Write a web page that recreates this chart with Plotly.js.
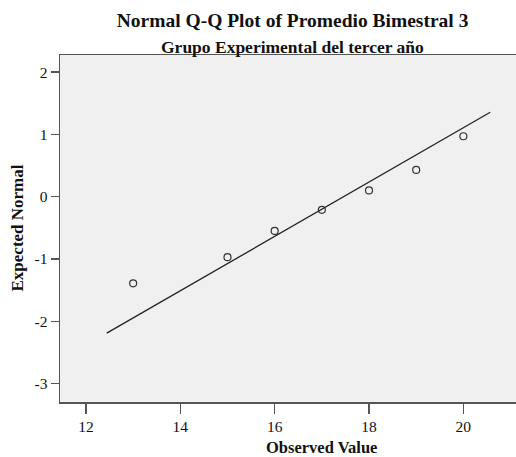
<!DOCTYPE html>
<html>
<head>
<meta charset="utf-8">
<script src="https://cdn.plot.ly/plotly-3.0.1.min.js"></script>
<style>html,body{margin:0;padding:0;background:#fff;}#chart{width:516px;height:457px;}</style>
</head>
<body>
<div id="chart"></div>
<script>
// Observed values and their expected normal scores
const observed = [13, 15, 16, 17, 18, 19, 20];
const expectedNormal = [-1.39, -0.97, -0.55, -0.21, 0.10, 0.43, 0.97];
// Reference line endpoints
const lineX = [12.44, 20.57];
const lineY = [-2.19, 1.355];
const xTicks = [12, 14, 16, 18, 20];
const yTicks = [-3, -2, -1, 0, 1, 2];

const serif = "'Liberation Serif', 'Times New Roman', serif";

const data = [
  {
    x: lineX, y: lineY, type: 'scatter', mode: 'lines',
    line: {color: '#222', width: 1.3}, hoverinfo: 'skip'
  },
  {
    x: observed, y: expectedNormal, type: 'scatter', mode: 'markers',
    marker: {symbol: 'circle-open', size: 7, color: '#333', line: {color: '#333', width: 1.2}}
  }
];

const layout = {
  width: 516, height: 457,
  margin: {l: 60, r: 0, t: 55, b: 55},
  paper_bgcolor: '#ffffff',
  plot_bgcolor: '#f0f0f0',
  showlegend: false,
  font: {family: serif, color: '#111', size: 15},
  title: {
    text: '<b>Normal Q-Q Plot of Promedio Bimestral 3</b>',
    font: {family: serif, size: 19.5, color: '#111'},
    x: 0.567, xanchor: 'center', xref: 'container',
    y: 1 - 20/457, yanchor: 'middle', yref: 'container'
  },
  xaxis: {
    range: [11.449, 21.116], tickvals: xTicks, ticktext: xTicks.map(String),
    showgrid: false, zeroline: false,
    showline: true, linecolor: '#555', linewidth: 1.5, mirror: true,
    ticks: 'outside', ticklen: 10, tickwidth: 1.3, tickcolor: '#555',
    tickfont: {family: serif, size: 15.5, color: '#111'}
  },
  yaxis: {
    range: [-3.295, 2.274], tickvals: yTicks, ticktext: yTicks.map(String),
    showgrid: false, zeroline: false,
    showline: true, linecolor: '#555', linewidth: 1.5, mirror: false,
    ticks: 'outside', ticklen: 8, tickwidth: 1.3, tickcolor: '#555',
    tickfont: {family: serif, size: 15.5, color: '#111'}
  },
  annotations: [
    {
      text: '<b>Grupo Experimental del tercer año</b>',
      xref: 'paper', yref: 'paper', x: (292 - 60) / 456, y: 1 + (55 - 47) / 347,
      xanchor: 'center', yanchor: 'middle', showarrow: false,
      font: {family: serif, size: 17.5, color: '#111'}
    },
    {
      text: '<b>Observed Value</b>',
      xref: 'paper', yref: 'paper', x: (321.7 - 60) / 456, y: -(447.5 - 402) / 347,
      xanchor: 'center', yanchor: 'middle', showarrow: false,
      font: {family: serif, size: 16.5, color: '#111'}
    },
    {
      text: '<b>Expected Normal</b>',
      xref: 'paper', yref: 'paper', x: -(60 - 17) / 456, y: 0.5, textangle: -90,
      xanchor: 'center', yanchor: 'middle', showarrow: false,
      font: {family: serif, size: 17, color: '#111'}
    }
  ]
};

Plotly.newPlot('chart', data, layout, {displayModeBar: false, staticPlot: true});
</script>
</body>
</html>
